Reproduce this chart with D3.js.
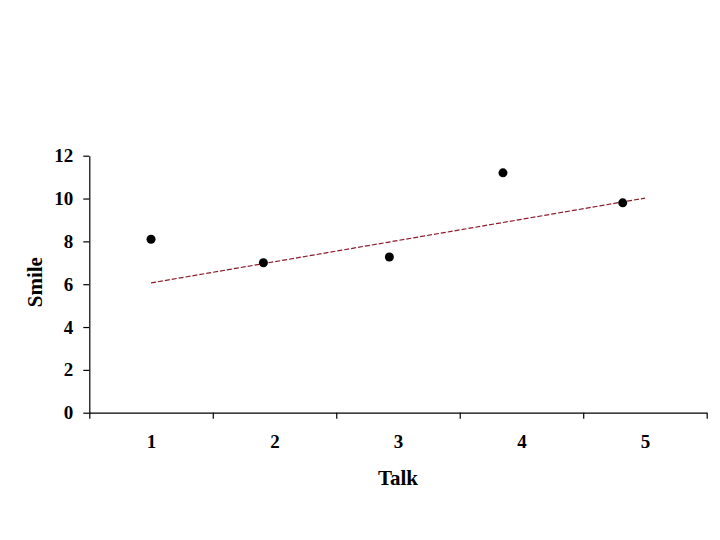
<!DOCTYPE html>
<html>
<head>
<meta charset="utf-8">
<script src="https://cdn.jsdelivr.net/npm/d3@7"></script>
<style>
  html, body { margin: 0; padding: 0; background: #fff; }
  svg { display: block; }
  text { font-family: "Liberation Serif", "Times New Roman", serif; font-weight: bold; fill: #000; }
</style>
</head>
<body>
<svg id="chart" width="720" height="540"></svg>
<script>
// Data
const talk = [1, 1.91, 2.93, 3.85, 4.82];
const smile = [8.1, 7.0, 7.27, 11.2, 9.8];
const trendX = [1, 5];
const trendY = [6.06, 10.02];
const xTickLabels = [1, 2, 3, 4, 5];
const yTickValues = [0, 2, 4, 6, 8, 10, 12];
const xBoundaries = [0.5, 1.5, 2.5, 3.5, 4.5, 5.5];

const svg = d3.select("#chart");

const x = d3.scaleLinear().domain([0.5, 5.5]).range([89.3, 706.7]);
const y = d3.scaleLinear().domain([0, 12]).range([412.7, 155.7]);

// X axis: tick marks at boundaries
const gx = svg.append("g").attr("transform", `translate(0,${y(0)})`)
  .call(d3.axisBottom(x).tickValues(xBoundaries).tickFormat("").tickSize(6).tickSizeOuter(0));
gx.selectAll("path, line").attr("stroke", "#000").attr("stroke-width", 1.2);

// X labels at category centres
const gxl = svg.append("g").attr("transform", `translate(0,${y(0)})`)
  .call(d3.axisBottom(x).tickValues(xTickLabels).tickFormat(d3.format("d")).tickSize(0).tickPadding(22));
gxl.select(".domain").remove();
gxl.selectAll("text").attr("font-size", 19).attr("font-family", "Liberation Serif, Times New Roman, serif").attr("font-weight", "bold");

// Y axis
const gy = svg.append("g").attr("transform", `translate(${x(0.5)},0)`)
  .call(d3.axisLeft(y).tickValues(yTickValues).tickFormat(d3.format("d")).tickSize(6).tickSizeOuter(0).tickPadding(10));
gy.selectAll("path, line").attr("stroke", "#000").attr("stroke-width", 1.2);
gy.selectAll("text").attr("font-size", 19).attr("font-family", "Liberation Serif, Times New Roman, serif").attr("font-weight", "bold");

// Trend line
const trend = trendX.map((d, i) => [d, trendY[i]]);
svg.append("path")
  .datum(trend)
  .attr("d", d3.line().x(d => x(d[0])).y(d => y(d[1])))
  .attr("fill", "none")
  .attr("stroke", "#8e1b2c")
  .attr("stroke-width", 1.2)
  .attr("stroke-dasharray", "5,2");

// Points
svg.append("g").selectAll("circle")
  .data(talk.map((d, i) => [d, smile[i]]))
  .join("circle")
  .attr("cx", d => x(d[0]))
  .attr("cy", d => y(d[1]))
  .attr("r", 4.5)
  .attr("fill", "#000");

// Axis titles
svg.append("text")
  .attr("x", (x(0.5) + x(5.5)) / 2 + 0)
  .attr("y", 485)
  .attr("text-anchor", "middle")
  .attr("font-size", 21)
  .text("Talk");

svg.append("text")
  .attr("transform", `translate(42,${(y(0) + y(12)) / 2 - 2}) rotate(-90)`)
  .attr("text-anchor", "middle")
  .attr("font-size", 21)
  .text("Smile");
</script>
</body>
</html>
